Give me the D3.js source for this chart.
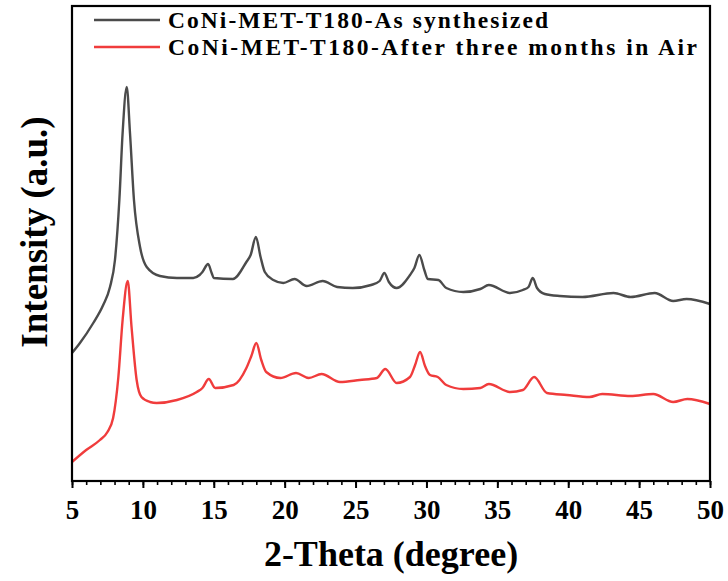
<!DOCTYPE html>
<html lang="en">
<head>
<meta charset="utf-8">
<script src="https://cdn.jsdelivr.net/npm/d3@7"></script>
<style>
  body { margin: 0; background: #fff; }
  text { font-family: "Liberation Serif", "Times New Roman", serif; font-weight: bold; }
</style>
</head>
<body>
<div id="chart"></div>
<script>
// 2-theta positions and intensities (a.u.)
var thetaAs = [5.0, 5.56, 6.5, 7.2, 7.68, 8.03, 8.34, 8.57, 8.86, 9.09, 9.37, 9.8, 10.27, 11.2, 12.4, 13.55,
  14.0, 14.2, 14.6, 14.85, 15.0, 16.35, 17.3, 17.6, 17.97, 18.3, 18.6, 19.2, 19.9, 20.7, 21.55, 22.68,
  23.7, 24.8, 26.1, 26.7, 27.03, 27.35, 27.9, 28.84, 29.15, 29.5, 29.85, 30.1, 30.84, 31.4, 32.6, 33.8,
  34.4, 35.9, 36.8, 37.2, 37.5, 37.8, 38.35, 39.4, 41.0, 43.2, 44.4, 46.1, 47.4, 48.35, 50.0];
var intAs = [128, 138, 158, 176, 194, 221, 281, 348, 394, 348, 281, 234, 214, 205, 203, 203,
  206, 209, 217, 208, 203, 202, 219, 226, 244, 224, 209, 201, 198, 202, 195, 200,
  194, 193, 196, 200, 208, 199, 193, 206, 213, 226, 211, 202, 201, 193, 189, 192,
  196, 188, 191, 194, 203, 193, 187, 185, 184, 188, 184, 188, 180, 182, 177];

var thetaAir = [5.0, 6.0, 6.97, 7.5, 7.9, 8.27, 8.57, 8.93, 9.2, 9.56, 9.9, 10.5, 10.97, 12.4, 13.8,
  14.2, 14.65, 15.1, 16.4, 17.3, 17.65, 18.0, 18.35, 18.7, 19.7, 20.8, 21.7, 22.6, 23.9, 25.3, 26.5,
  27.1, 27.9, 28.84, 29.2, 29.55, 29.9, 30.25, 30.8, 31.4, 32.6, 33.8, 34.4, 35.9, 36.8, 37.6, 38.5,
  39.9, 41.5, 42.4, 44.4, 46.0, 47.4, 48.4, 50.0];
var intAir = [19, 31, 41, 49, 63, 104, 161, 200, 154, 101, 84, 79, 78, 81, 89,
  93, 102, 93, 96, 113, 125, 138, 121, 109, 103, 108, 103, 107, 99, 101, 103,
  112, 98, 104, 116, 129, 115, 106, 104, 96, 92, 93, 97, 89, 91, 104, 88,
  86, 84, 87, 85, 87, 79, 82, 77];

var seriesNames = ["CoNi-MET-T180-As synthesized", "CoNi-MET-T180-After three months in Air"];
var seriesColors = ["#4b4b4b", "#f03c3c"];
var xTicks = [5, 10, 15, 20, 25, 30, 35, 40, 45, 50];

var W = 728, H = 581;
var margin = {top: 6, right: 18, bottom: 100, left: 72};
var width = W - margin.left - margin.right,
    height = H - margin.top - margin.bottom;

var svg = d3.select("#chart").append("svg")
    .attr("width", W).attr("height", H)
  .append("g")
    .attr("transform", "translate(" + margin.left + "," + margin.top + ")");

var x = d3.scaleLinear().domain([5, 50]).range([0, width]);
var y = d3.scaleLinear().domain([0, 475]).range([height, 0]);

// minor ticks
svg.append("g")
    .attr("transform", "translate(0," + height + ")")
    .call(d3.axisBottom(x).tickValues(d3.range(5, 51, 1)).tickSize(4).tickFormat(""))
    .call(g => g.select(".domain").remove())
    .call(g => g.selectAll("line").attr("stroke-width", 1.6));

// major ticks
var xAxis = svg.append("g")
    .attr("transform", "translate(0," + height + ")")
    .call(d3.axisBottom(x).tickValues(xTicks).tickSize(7).tickPadding(12).tickFormat(d3.format("d")));
xAxis.select(".domain").remove();
xAxis.selectAll("line").attr("stroke-width", 2);
xAxis.selectAll("text").attr("font-size", 27).attr("fill", "#000")
    .style("font-family", "'Liberation Serif', serif").style("font-weight", "bold");

var line = d3.line()
    .x(function(d) { return x(d[0]); })
    .y(function(d) { return y(d[1]); })
    .curve(d3.curveMonotoneX);

var dataAs = d3.zip(thetaAs, intAs);
var dataAir = d3.zip(thetaAir, intAir);

svg.append("path").datum(dataAs)
    .attr("fill", "none").attr("stroke", seriesColors[0]).attr("stroke-width", 2.4)
    .attr("stroke-linejoin", "round").attr("d", line);
svg.append("path").datum(dataAir)
    .attr("fill", "none").attr("stroke", seriesColors[1]).attr("stroke-width", 2.4)
    .attr("stroke-linejoin", "round").attr("d", line);

// frame
svg.append("rect")
    .attr("x", 0).attr("y", 0).attr("width", width).attr("height", height)
    .attr("fill", "none").attr("stroke", "#000").attr("stroke-width", 2.2);

// legend (kept a bit smaller so the two lines don't collide, spread to the original width)
var legendWidths = [380, 529];
var legend = svg.selectAll(".legend").data(seriesNames).enter().append("g")
    .attr("transform", function(d, i) { return "translate(22," + (14 + i * 27) + ")"; });
legend.append("line")
    .attr("x1", 0).attr("x2", 66).attr("y1", 0).attr("y2", 0)
    .attr("stroke", function(d, i) { return seriesColors[i]; }).attr("stroke-width", 2.4);
legend.append("text")
    .attr("x", 74).attr("y", 8)
    .attr("font-size", 23.5)
    .attr("textLength", function(d, i) { return legendWidths[i]; })
    .attr("lengthAdjust", "spacing")
    .text(function(d) { return d; });

// axis titles
svg.append("text")
    .attr("text-anchor", "middle")
    .attr("x", width / 2).attr("y", height + 85)
    .attr("font-size", 36)
    .text("2-Theta (degree)");

svg.append("text")
    .attr("text-anchor", "middle")
    .attr("transform", "rotate(-90)")
    .attr("x", -226).attr("y", -25)
    .attr("font-size", 37)
    .text("Intensity (a.u.)");
</script>
</body>
</html>
